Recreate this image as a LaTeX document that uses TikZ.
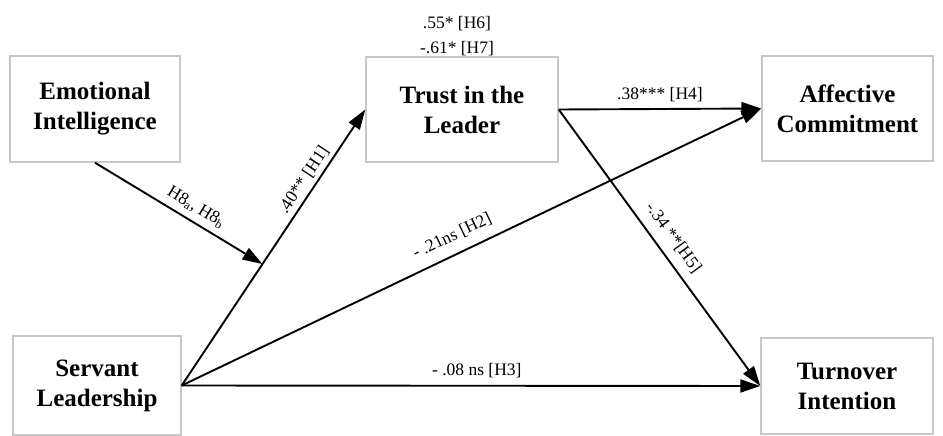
\documentclass[tikz,border=0pt]{standalone}
\usepackage{fontspec}
\setmainfont{Liberation Serif}
\usetikzlibrary{arrows.meta,calc}
\begin{document}
\begin{tikzpicture}[x=1pt,y=-1pt,
  box/.style={draw=black!22,line width=1.4pt,inner sep=0pt,align=center,
    font=\fontsize{25}{30}\selectfont\bfseries},
  arr/.style={line width=1.9pt,-{Triangle[length=20pt,width=13pt]}},
  lab/.style={font=\fontsize{17.5}{21}\selectfont,inner sep=2pt}]
\useasboundingbox (0,0) rectangle (943,436);
\node[box,minimum width=170pt,minimum height=106pt] (EI) at (95,109) {Emotional\\Intelligence};
\node[box,minimum width=192pt,minimum height=105pt] (TL) at (462,109.5) {Trust in the\\Leader};
\node[box,minimum width=171pt,minimum height=105pt] (AC) at (847.5,108.5) {Affective\\Commitment};
\node[box,minimum width=168pt,minimum height=99pt] (SL) at (97,385.5) {Servant\\Leadership};
\node[box,minimum width=172pt,minimum height=96pt] (TI) at (847,386) {Turnover\\Intention};
\node[lab,align=center,font=\fontsize{17.5}{25}\selectfont] (H67) at (457,36) {.55* [H6]\\-.61* [H7]};
\coordinate (M) at ($(SL.east)!0.44!(TL.west)$);
\draw[arr] (SL.east) -- node[lab,sloped,above,pos=0.72,inner sep=4pt] (H1) {.40** [H1]} (TL.west);
\draw[arr] (SL.east) -- node[lab,sloped,above,pos=0.48,inner sep=10pt] (H2) {- .21ns [H2]} (AC.west);
\draw[arr] (SL.east) -- node[lab,above,pos=0.51,inner sep=7pt] (H3) {- .08 ns [H3]} (TI.west);
\draw[arr] (TL.east) -- node[lab,above,pos=0.5,inner sep=6pt] (H4) {.38*** [H4]} (AC.west);
\draw[arr] (TL.east) -- node[lab,sloped,above,pos=0.5,inner sep=9pt] (H5) {-.34 **[H5]} (TI.west);
\draw[arr] (EI.south) -- node[lab,sloped,above,pos=0.56,inner sep=6pt] (H8) {H8\textsubscript{a}, H8\textsubscript{b}} (M);
\end{tikzpicture}
\end{document}
